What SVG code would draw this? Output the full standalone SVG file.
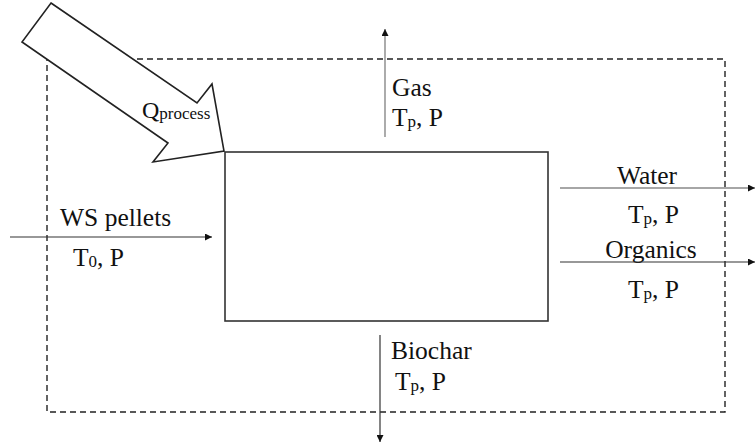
<svg xmlns="http://www.w3.org/2000/svg" width="755" height="448" viewBox="0 0 755 448">
<style>
.t{font-size:25.5px;fill:#111}
.sub{font-size:17px}
.ln{stroke:#333;stroke-width:1.2;fill:none}
.lg{stroke:#888;stroke-width:1.4;fill:none}
</style>
<defs>
<marker id="ah" viewBox="0 0 10 10" refX="10" refY="5" markerWidth="7" markerHeight="7" markerUnits="userSpaceOnUse" orient="auto"><path d="M0,0 L10,5 L0,10 z" fill="#111"/></marker>
</defs>
<rect x="0" y="0" width="755" height="448" fill="#fff"/>
<g id="boundary"><rect x="47" y="59" width="678" height="353" fill="none" stroke="#222" stroke-width="1.4" stroke-dasharray="6,4"/></g>
<g id="reactor"><rect x="225" y="152" width="323" height="169" fill="#fff" stroke="#333" stroke-width="1.6"/></g>
<g font-family="Liberation Serif, Times New Roman, serif">
<g id="heat"><polygon points="51,3 197,103 212,84 224,151 153,162 168,143 22,42" fill="#fff" stroke="#222" stroke-width="1.6" stroke-linejoin="miter"/>
<text x="142" y="118" font-size="24" fill="#111">Q<tspan class="sub" dy="1">process</tspan></text></g>
<g id="ws-pellets"><text class="t" x="60" y="226">WS pellets</text><text class="t" x="73" y="266">T<tspan class="sub" dy="1">0</tspan><tspan dy="-1">, P</tspan></text></g>
<g id="gas"><text class="t" x="392" y="96">Gas</text><text class="t" x="392" y="126">T<tspan class="sub" dy="1">p</tspan><tspan dy="-1">, P</tspan></text></g>
<g id="water"><text class="t" x="647" y="184" text-anchor="middle">Water</text><text class="t" x="628" y="223">T<tspan class="sub" dy="1">p</tspan><tspan dy="-1">, P</tspan></text></g>
<g id="organics"><text class="t" x="651" y="258" text-anchor="middle">Organics</text><text class="t" x="628" y="298">T<tspan class="sub" dy="1">p</tspan><tspan dy="-1">, P</tspan></text></g>
<g id="biochar"><text class="t" x="391" y="359">Biochar</text><text class="t" x="395" y="390">T<tspan class="sub" dy="1">p</tspan><tspan dy="-1">, P</tspan></text></g>
</g>
<g id="connectors">
<line class="ln" x1="10" y1="237" x2="212" y2="237" marker-end="url(#ah)"/>
<line class="lg" x1="385" y1="137" x2="385" y2="29" marker-end="url(#ah)"/>
<line class="lg" x1="560" y1="188" x2="755" y2="188" marker-end="url(#ah)"/>
<line class="ln" x1="560" y1="262" x2="755" y2="262" marker-end="url(#ah)"/>
<line class="ln" x1="380" y1="335" x2="380" y2="442" marker-end="url(#ah)"/>
</g>
</svg>
